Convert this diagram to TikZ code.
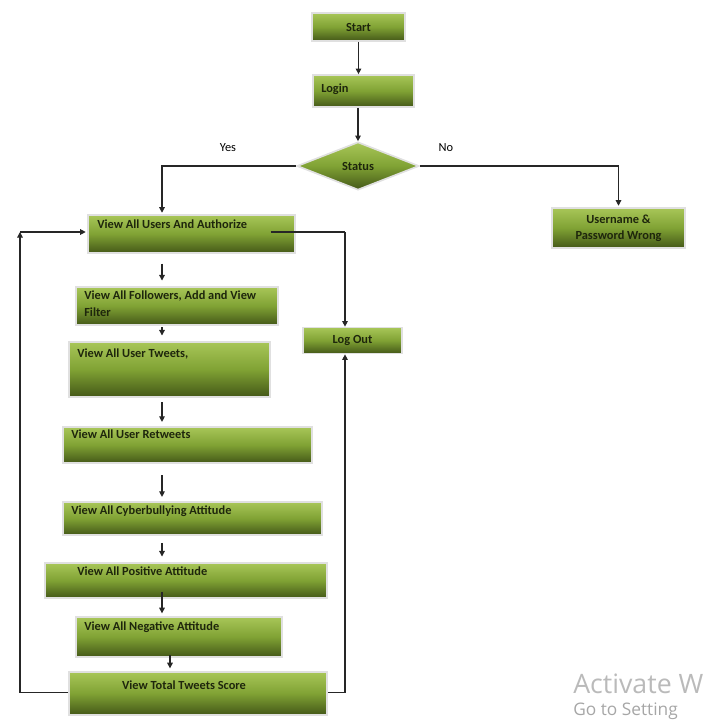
\documentclass[tikz,border=0pt]{standalone}
\usepackage{fontspec}
\setmainfont{Carlito}
\newfontfamily\winfont{Open Sans}
\usepackage{tikz}
\usetikzlibrary{shapes.geometric,arrows.meta,calc}
\definecolor{boxtop}{RGB}{168,198,88}
\definecolor{boxmid}{RGB}{128,162,52}
\definecolor{boxbot}{RGB}{68,88,24}
\definecolor{boxtext}{RGB}{30,38,12}

\begin{document}
\begin{tikzpicture}[x=0.025cm, y=-0.025cm,
  box/.style={rectangle, inner sep=0pt, draw=black!12, line width=1.2pt,
    top color=boxtop, bottom color=boxbot, middle color=boxmid},
  txt/.style={inner sep=0pt, anchor=north west, align=left, text=boxtext,
    font=\fontsize{8.8}{11.5}\selectfont\bfseries},
  ctxt/.style={inner sep=0pt, align=center, text=boxtext,
    font=\fontsize{8.8}{11.5}\selectfont\bfseries},
  lbl/.style={inner sep=0pt, font=\fontsize{8.8}{10}\selectfont},
  arr/.style={-{Triangle[length=4pt,width=4pt]}, line width=0.8pt, black!85}]

  \useasboundingbox (0,0) rectangle (710,723);

	\node[box, minimum width=2.325cm, minimum height=0.7cm] (start) at (358.5,27) {};
	\node[box, minimum width=2.525cm, minimum height=0.8cm] (login) at (363.5,91) {};
	\node[box, diamond, minimum width=3.05cm, minimum height=1.2cm] (status) at (358,166) {};
	\node[box, minimum width=3.325cm, minimum height=1.0cm] (wrong) at (618.5,228) {};
	\node[box, minimum width=5.175cm, minimum height=0.95cm] (users) at (191.5,234) {};
	\node[box, minimum width=2.475cm, minimum height=0.65cm] (logout) at (352.5,340.5) {};
	\node[box, minimum width=5.05cm, minimum height=0.95cm] (follow) at (177,306) {};
	\node[box, minimum width=5.025cm, minimum height=1.375cm] (tweets) at (169.5,369.5) {};
	\node[box, minimum width=6.225cm, minimum height=0.9cm] (retweets) at (187.5,445) {};
	\node[box, minimum width=6.475cm, minimum height=0.825cm] (cyber) at (192.5,518.5) {};
	\node[box, minimum width=7.05cm, minimum height=0.875cm] (positive) at (186,580.5) {};
	\node[box, minimum width=5.15cm, minimum height=1.0cm] (negative) at (179,637) {};
	\node[box, minimum width=6.45cm, minimum height=1.075cm] (total) at (198,693.5) {};

	\node[ctxt] (tstart) at (start) {Start};
	\node[txt] (tlogin) at (321,84) {Login};
	\node[ctxt] (tstatus) at (status) {Status};
	\node[ctxt] (twrong) at (wrong) {Username \&\\Password Wrong};
	\node[ctxt] (tlogout) at (logout) {Log Out};
	\node[txt] (tusers) at (97,220) {View All Users And Authorize};
	\node[txt] (tfollow) at (84,291) {View All Followers, Add and View\\Filter};
	\node[txt] (ttweets) at (77,349) {View All User Tweets,};
	\node[txt] (tretweets) at (71,430) {View All User Retweets};
	\node[txt] (tcyber) at (71,506) {View All Cyberbullying Attitude};
	\node[txt] (tpositive) at (77,567) {View All Positive Attitude};
	\node[txt] (tnegative) at (84,622) {View All Negative Attitude};
	\node[ctxt] (ttotal) at (184,685) {View Total Tweets Score};

	\node[lbl] (yes) at (228,148) {Yes};
	\node[lbl] (no) at (446,148) {No};

	\coordinate (ax) at (162,0);
	\coordinate (bx) at (170,0);
	\coordinate (lc) at (20,232);
	\coordinate (rc) at (345,232);

	\draw[arr] (start.south) -- (start.south |- login.north);
	\draw[arr] (status.north |- login.south) -- (status.north);
	\draw[arr] (status.west) -| ([yshift=1pt]ax |- users.north);
	\draw[arr] (status.east) -| ([yshift=1pt]wrong.north);

	\draw[arr] ([yshift=-7pt]ax |- users.south) -- ([yshift=4pt]ax |- follow.north);
	\draw[arr] ([yshift=-1pt]ax |- follow.south) -- ([yshift=4pt]ax |- tweets.north);
	\draw[arr] ([yshift=-3pt]ax |- tweets.south) -- ([yshift=3pt]ax |- retweets.north);
	\draw[arr] ([yshift=-8pt]ax |- retweets.south) -- ([yshift=3pt]ax |- cyber.north);
	\draw[arr] ([yshift=-5pt]ax |- cyber.south) -- ([yshift=4pt]ax |- positive.north);
	\draw[arr] ([yshift=5pt]ax |- positive.south) -- ([yshift=2pt]ax |- negative.north);
	\draw[arr] ([yshift=2pt]bx |- negative.south) -- ([yshift=2pt]bx |- total.north);

	\draw[arr] ([yshift=1pt]total.west) -| (lc);
	\draw[arr] (lc) -- ([xshift=-1pt]users.west |- lc);
	\draw[line width=0.8pt, black!85] ([xshift=-18pt]users.east |- rc) -- (rc);
	\draw[arr] (rc) -- (rc |- logout.north);
	\draw[arr] ([yshift=1pt]total.east) -| (rc |- logout.south);

	\node[anchor=base west, inner sep=0pt, text=black!27, font=\winfont\fontsize{19}{21}\selectfont] (wm1) at (573,693) {Activate W};
	\node[anchor=base west, inner sep=0pt, text=black!35, font=\winfont\fontsize{12.3}{14}\selectfont] (wm2) at (573,715) {Go to Setting};
\end{tikzpicture}
\end{document}
